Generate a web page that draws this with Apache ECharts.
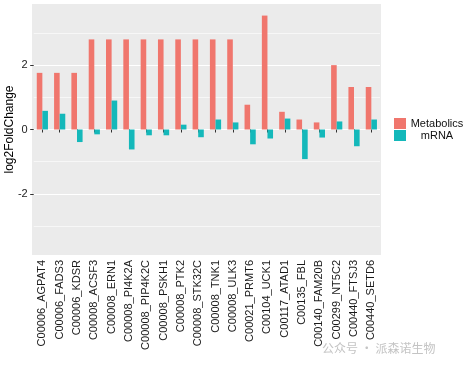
<!DOCTYPE html>
<html><head><meta charset="utf-8">
<script src="https://cdn.jsdelivr.net/npm/echarts@6/dist/echarts.min.js"></script>
<style>html,body{margin:0;padding:0;background:#fff}#c{width:470px;height:366px}</style>
</head><body><div id="c"></div>
<script>
const categories = ["C00006_AGPAT4","C00006_FADS3","C00006_KDSR","C00008_ACSF3","C00008_ERN1","C00008_PI4K2A","C00008_PIP4K2C","C00008_PSKH1","C00008_PTK2","C00008_STK32C","C00008_TNK1","C00008_ULK3","C00021_PRMT6","C00104_UCK1","C00117_ATAD1","C00135_FBL","C00140_FAM20B","C00299_NT5C2","C00440_FTSJ3","C00440_SETD6"];
const metabolics = [1.76,1.76,1.76,2.8,2.8,2.8,2.8,2.8,2.8,2.8,2.8,2.8,0.77,3.54,0.55,0.31,0.22,2.0,1.32,1.32];
const mrna = [0.58,0.49,-0.39,-0.15,0.9,-0.62,-0.18,-0.18,0.15,-0.24,0.31,0.22,-0.46,-0.28,0.34,-0.92,-0.25,0.25,-0.52,0.31];
const yTicks = [-2,0,2];
const yMinor = [-3,-1,1,3];
const seriesNames = ["Metabolics","mRNA"];
const colors = ["#F0766D","#14B8BA"];

const chart = echarts.init(document.getElementById('c'), null, {renderer:'canvas'});
const font = "'Liberation Sans', Arial, sans-serif";

chart.setOption({
  animation:false,
  textStyle:{fontFamily:font},
  graphic:[
    {type:'rect', zlevel:-1, z:-10, silent:true, shape:{x:32,y:4,width:349,height:251}, style:{fill:'#EBEBEB'}},
    {type:'text', left:322, top:342, silent:true, style:{text:'公众号 · 派森诺生物', fill:'#c4c4c4', font:"12px 'Noto Sans CJK SC'"}}
  ],
  grid:{left:33.7, right:90, top:4, bottom:111, show:true, backgroundColor:'#EBEBEB', borderWidth:0, outerBoundsMode:'none', containLabel:false},
  legend:{
    orient:'vertical', left:394, top:118, padding:0, itemWidth:12, itemHeight:11, itemGap:1,
    data:seriesNames, icon:'rect',
    formatter: '{c|{name}}',
    textStyle:{fontSize:11, color:'#111', fontFamily:font,
      rich:{c:{width:52, align:'center', fontSize:11, color:'#111', fontFamily:font}}}
  },
  xAxis:{
    type:'category', data:categories,
    axisLine:{show:false},
    axisTick:{show:true, alignWithLabel:true, length:3, lineStyle:{color:'#333'}},
    axisLabel:{rotate:90, interval:0, fontSize:11, color:'#1a1a1a', margin:5, fontFamily:font},
    splitLine:{show:false}
  },
  yAxis:[{
    type:'value', min:-3.9, max:3.9,
    name:'log2FoldChange', nameLocation:'middle', nameGap:18, nameMoveOverlap:false,
    nameTextStyle:{fontSize:12, color:'#000', fontFamily:font},
    axisLine:{show:false},
    axisTick:{show:true, length:3.5, lineStyle:{color:'#333'}, customValues:yTicks},
    axisLabel:{fontSize:11, color:'#222', margin:6, customValues:yTicks, fontFamily:font},
    splitLine:{show:true, lineStyle:{color:'#fff', width:1.1}},
    minorTick:{show:false, splitNumber:2},
    minorSplitLine:{show:false}
  },{
    type:'value', min:-3.9, max:3.9, position:'left',
    axisLine:{show:false}, axisLabel:{show:false, customValues:yMinor},
    axisTick:{show:false, customValues:yMinor},
    splitLine:{show:true, lineStyle:{color:'#fff', width:0.6}}
  }],
  series:[
    {name:seriesNames[0], type:'bar', data:metabolics, barWidth:5.6, barGap:'0%', itemStyle:{color:colors[0]}, z:3},
    {name:seriesNames[1], type:'bar', data:mrna, barWidth:5.6, barGap:'0%', itemStyle:{color:colors[1]}, z:3}
  ]
});
</script></body></html>
